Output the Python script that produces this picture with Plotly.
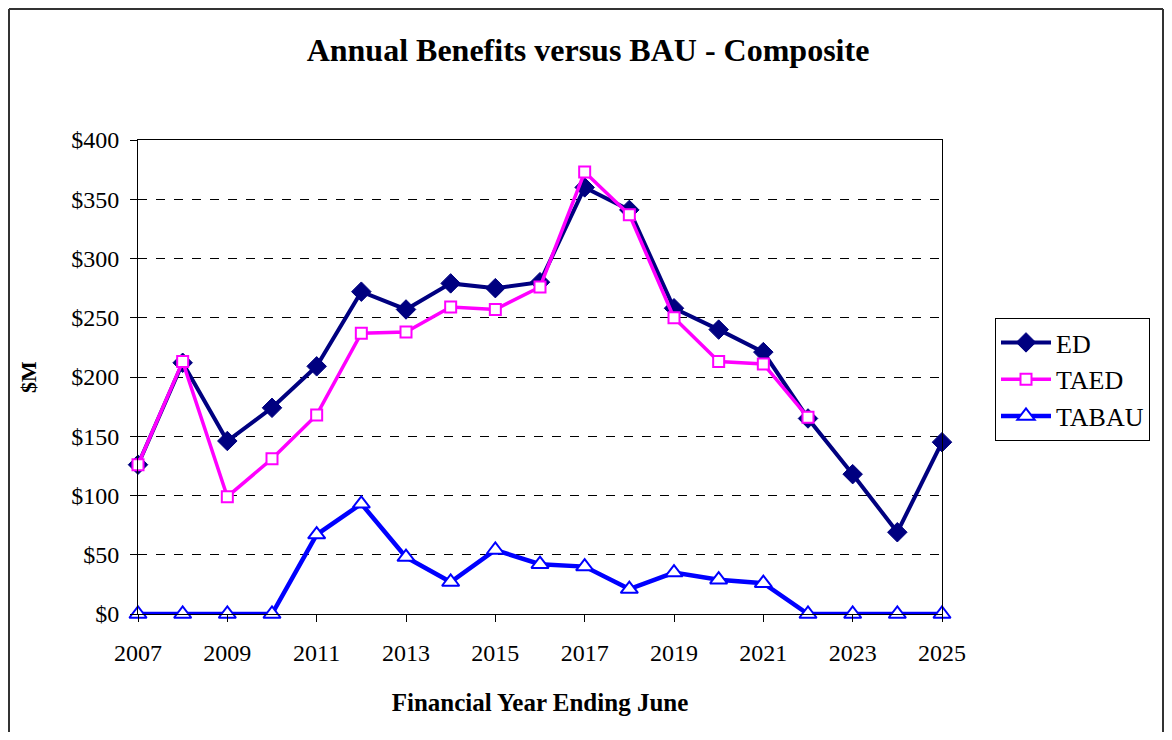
import plotly.graph_objects as go

years = list(range(2007, 2026))
ed = [126, 212, 146, 174, 209, 272, 257, 279, 275, 280, 360, 341, 258, 240, 221, 165, 118, 69, 145]
taed = [126, 213, 99, 131, 168, 237, 238, 259, 257, 276, 373, 337, 250, 213, 211, 166, None, None, None]
tabau = [0, 0, 0, 0, 67, 93, 48, 27, 54, 42, 40, 21, 35, 29, 26, 0, 0, 0, 0]
y_ticks = [0, 50, 100, 150, 200, 250, 300, 350, 400]
y_labels = ["$" + str(v) for v in y_ticks]

SERIF = "Liberation Serif"

fig = go.Figure()
fig.add_trace(go.Scatter(
    x=years, y=ed, name="ED", mode="lines+markers", cliponaxis=False,
    line=dict(color="#000080", width=4),
    marker=dict(symbol="diamond", size=15, color="#000080", line=dict(color="#000080", width=1)),
))
fig.add_trace(go.Scatter(
    x=years, y=taed, name="TAED", mode="lines+markers", cliponaxis=False,
    line=dict(color="#FF00FF", width=3.5),
    marker=dict(symbol="square", size=11, color="white", line=dict(color="#FF00FF", width=2)),
))
fig.add_trace(go.Scatter(
    x=years, y=tabau, name="TABAU", mode="lines+markers", cliponaxis=False,
    line=dict(color="#0000FF", width=4.5),
    marker=dict(symbol="triangle-up", size=15, color="white", line=dict(color="#0000FF", width=2)),
))

OFF = 8  # page body margin
W, H = 1156, 724
L, R, T, B = 130, 222, 132, 118
pw, ph = W - L - R, H - T - B

def px_x(x):
    return (x - OFF - L) / pw

def px_y(y):
    return (H - B - (y - OFF)) / ph

# outer chart-area border (left, top, right; bottom is outside the view)
xl, xr = px_x(OFF + 1), px_x(OFF + W - 1)
yt, yb = px_y(OFF + 1), px_y(OFF + H + 20)
for x0, y0, x1, y1 in [(xl, yb, xl, yt), (xl, yt, xr, yt), (xr, yt, xr, yb)]:
    fig.add_shape(type="line", xref="paper", yref="paper",
                  x0=x0, y0=y0, x1=x1, y1=y1,
                  line=dict(color="#333333", width=2))

fig.update_layout(
    width=W, height=H,
    margin=dict(l=L, r=R, t=T, b=B),
    paper_bgcolor="white", plot_bgcolor="white",
    title=dict(text="<b>Annual Benefits versus BAU - Composite</b>",
               x=(588 - OFF) / W, xref="container", xanchor="center",
               y=1 - (50 - OFF) / H, yref="container", yanchor="middle",
               font=dict(family=SERIF, size=32, color="black")),
    showlegend=True,
    legend=dict(x=px_x(995), y=px_y(318), xanchor="left", yanchor="top",
                bordercolor="black", borderwidth=1, bgcolor="white",
                font=dict(family=SERIF, size=26, color="black"),
                tracegroupgap=0, itemwidth=50),
    font=dict(family=SERIF, color="black"),
)

fig.update_xaxes(
    range=[2007, 2025], tickmode="array", tickvals=years[::2],
    ticktext=[str(v) for v in years[::2]],
    ticks="outside", ticklen=7, tickcolor="black", tickwidth=1,
    ticklabelstandoff=10,
    showline=True, linecolor="black", linewidth=1, mirror=True,
    showgrid=False, zeroline=False,
    tickfont=dict(family=SERIF, size=24, color="black"),
    title=dict(text="<b>Financial Year Ending June</b>", standoff=28,
               font=dict(family=SERIF, size=25, color="black")),
)
fig.update_yaxes(
    range=[0, 400], tickmode="array", tickvals=y_ticks, ticktext=y_labels,
    ticks="outside", ticklen=7, tickcolor="black", tickwidth=1,
    ticklabelstandoff=6,
    showline=True, linecolor="black", linewidth=1, mirror=True,
    showgrid=True, gridcolor="black", griddash="dash", gridwidth=1,
    zeroline=False,
    tickfont=dict(family=SERIF, size=24, color="black"),
    title=dict(text="<b>$M</b>", standoff=28,
               font=dict(family=SERIF, size=22, color="black")),
)

fig.write_html("out.html")
